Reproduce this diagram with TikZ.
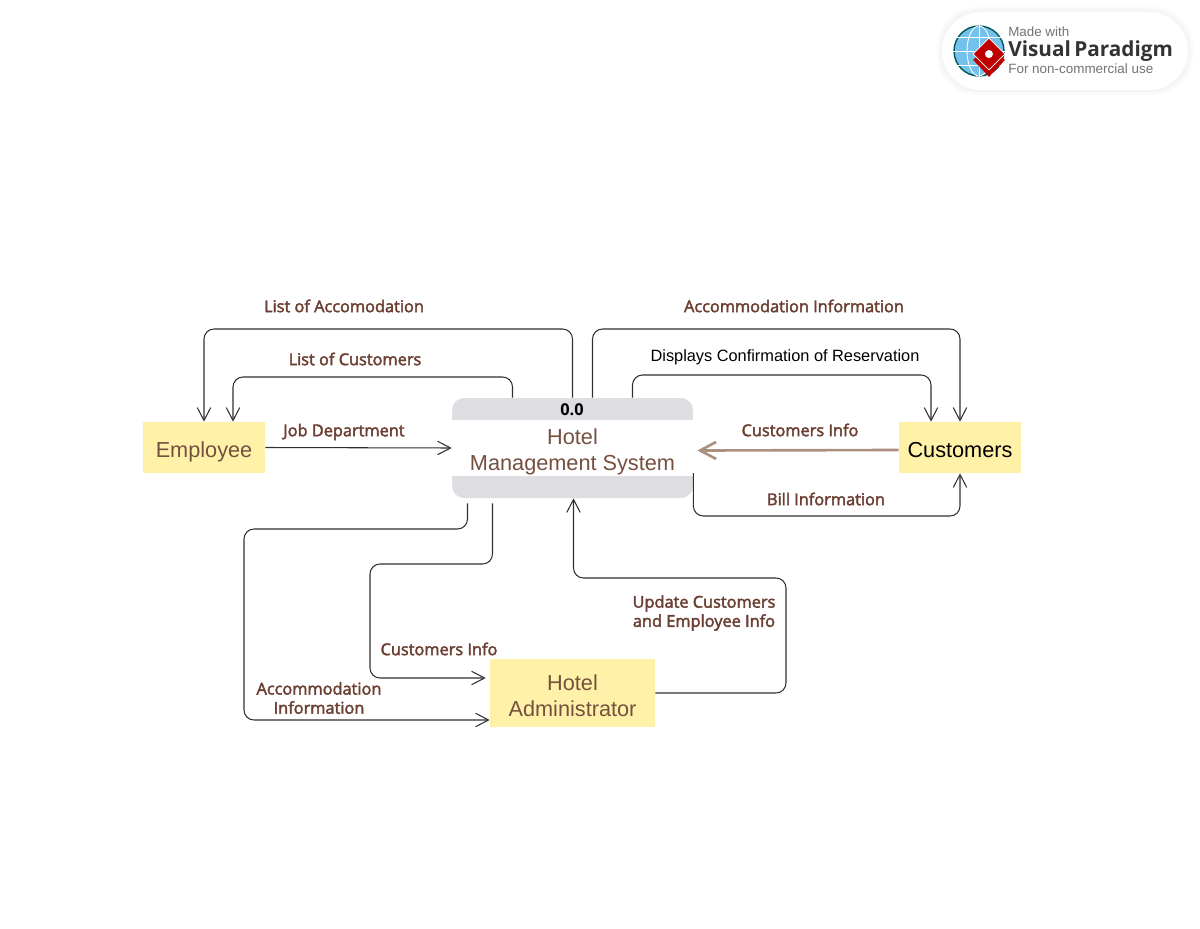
\documentclass[tikz,border=0pt]{standalone}
\usepackage{fontspec}
\setmainfont{Liberation Sans}
\newfontfamily\labelfont[FakeBold=2.5]{Open Sans}
\newfontfamily\badgefont{Open Sans}
\usetikzlibrary{arrows.meta,calc,shapes.geometric}
\definecolor{entityfill}{HTML}{FFF2A8}
\definecolor{bandgrey}{HTML}{DEDDE2}
\definecolor{textbrown}{HTML}{75503F}
\definecolor{labelbrown}{HTML}{6B4032}
\definecolor{thickbrown}{HTML}{AB9080}
\definecolor{linegrey}{HTML}{303030}
\definecolor{globeblue}{HTML}{74C2EC}
\tikzset{
  entity/.style={fill=entityfill, inner sep=0pt},
  entitytext/.style={text=textbrown, align=center, inner sep=0pt, yshift=-0.07cm, font=\fontsize{12.35}{14.8}\selectfont},
  process/.style={minimum width=4.82cm, minimum height=2cm, inner sep=0pt},
  flow/.style={draw=linegrey, line width=0.6pt, rounded corners=0.2cm, -{Straight Barb[length=2.6mm,width=2.7mm]}},
  flowlabel/.style={text=labelbrown, align=center, inner sep=0pt, font=\labelfont\fontsize{9.3}{10.9}\selectfont},
}
\begin{document}
\begin{tikzpicture}[x=0.02cm, y=-0.02cm]
  \useasboundingbox (0,0) rectangle (1200,929);

  % entities and process
  \node[entity, minimum width=2.44cm, minimum height=1.02cm, label={[entitytext, yshift=-0.03cm]center:\strut Employee}] (employee) at (204,447.5) {};
  \node[entity, minimum width=2.44cm, minimum height=1.02cm, label={[entitytext, yshift=-0.03cm, text=black]center:\strut Customers}] (customers) at (960,447.5) {};
  \node[entity, minimum width=3.3cm, minimum height=1.36cm, label={[entitytext, yshift=0.02cm]center:Hotel\\Administrator}] (admin) at (572.5,693) {};
  \fill[bandgrey, rounded corners=0.24cm] (452,398) -- (693,398) -- (693,420) -- (452,420) -- cycle;
  \fill[bandgrey, rounded corners=0.24cm] (452,476) -- (693,476) -- (693,498) -- (452,498) -- cycle;
  \fill[bandgrey] (452,412) rectangle (693,420);
  \fill[bandgrey] (452,476) rectangle (693,484);
  \node[process, label={[entitytext]center:Hotel\\Management System}] (sys) at (572.5,448) {};
  \node[inner sep=0pt, font=\badgefont\bfseries\fontsize{9.3}{10.9}\selectfont] (sysid) at (572,410) {0.0};

  % flows
  \draw[flow] (sys.north) |- (204,329) -- (employee.north);
  \draw[flow] ($(sys.north)+(-60,0)$) |- (233,377) -- ($(employee.north)+(29,0)$);
  \draw[flow] ($(sys.north)+(20,0)$) |- (960,329) -- (customers.north);
  \draw[flow] ($(sys.north)+(60,0)$) |- (931,375) -- ($(customers.north)+(-29,0)$);
  \draw[flow] (employee.east) -- (sys.west);
  \draw[draw=thickbrown, line width=1.5pt, -{Straight Barb[length=3.2mm,width=3.4mm]}] ($(customers.west)+(0,2.5)$) -- ($(sys.east)+(4,2.5)$);
  \draw[flow] ($(sys.east)+(0,25)$) |- (960,516) -- (customers.south);
  \draw[flow] ($(sys.south)+(-105,5)$) |- (244,529) |- ($(admin.west)+(0,27)$);
  \draw[flow] ($(sys.south)+(-80,5)$) |- (370,564) |- ($(admin.west)+(-4,-15)$);
  \draw[flow] (admin.east) -| (786,578) -| ($(sys.south)+(1,0)$);

  % labels
  \node[flowlabel] (lblaccomodation) at (344,306) {List of Accomodation};
  \node[flowlabel] (lblcustomerlist) at (355,359) {List of Customers};
  \node[flowlabel] (lbljob) at (344,432) {Job Department};
  \node[flowlabel] (lblaccinfo) at (794,306) {Accommodation Information};
  \node[inner sep=0pt, font=\fontsize{9.3}{11}\selectfont] (lbldisplays) at (785,357) {Displays Confirmation of Reservation};
  \node[flowlabel] (lblcustinfo) at (800,430) {Customers Info};
  \node[flowlabel] (lblbill) at (826,499) {Bill Information};
  \node[flowlabel] (lblupdate) at (704,613) {Update Customers\\and Employee Info};
  \node[flowlabel] (lblcustadmin) at (439,649) {Customers Info};
  \node[flowlabel] (lblaccadmin) at (319,698) {Accommodation\\Information};

  % badge
  \foreach \grow/\shade in {5/1.5,3.5/2.5,2/4}
    \fill[black!\shade, rounded corners=0.78cm] (942-\grow,12-\grow) rectangle (1188+\grow,90+\grow);
  \fill[white, rounded corners=0.78cm] (942,12) rectangle (1188,90);
  \fill[globeblue, draw=teal!70!black, line width=0.8pt] (979,51) circle (0.5cm);
  \draw[white, line width=0.5pt] (979,25) -- (979,77) (953,51) -- (1005,51) (957,37) -- (1001,37) (957,65) -- (1001,65);
  \draw[white, line width=0.5pt] (979,51) ellipse (0.24cm and 0.5cm);
  \node[diamond, fill=red!75!black, minimum width=0.64cm, minimum height=0.68cm, inner sep=0pt] (badgemark) at (989,60) {};
  \node[diamond, fill=red!75!black, draw=white, line width=0.4pt, minimum width=0.64cm, minimum height=0.64cm, inner sep=0pt] (badgetop) at (989,54) {};
  \fill[white] (989,54) circle (0.08cm);
  \node[anchor=west, inner sep=0pt, text=black!55, font=\fontsize{7.6}{8}\selectfont] (badgemade) at (1008,32) {Made with};
  \node[anchor=west, inner sep=0pt, text=black!80, font=\badgefont\bfseries\fontsize{11.8}{14}\selectfont] (badgename) at (1008,51) {Visual\,Paradigm};
  \node[anchor=west, inner sep=0pt, text=black!55, font=\fontsize{7.65}{8}\selectfont] (badgeuse) at (1008,69) {For non-commercial use};
\end{tikzpicture}
\end{document}
